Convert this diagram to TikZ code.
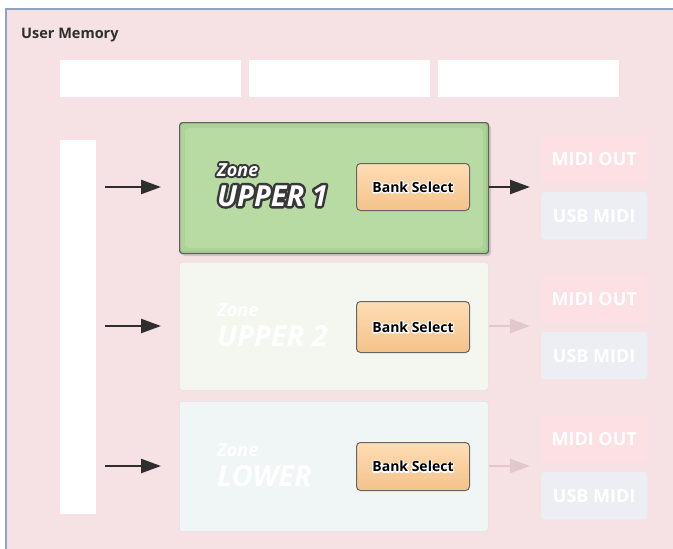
\documentclass[tikz,border=0pt]{standalone}
\usepackage{fontspec}
\setmainfont{Open Sans}
\usetikzlibrary{arrows.meta}
\definecolor{bgpink}{HTML}{F6E1E4}
\definecolor{framec}{HTML}{8FA4C2}
\definecolor{greenz}{HTML}{B8DAA3}
\definecolor{greenedge}{HTML}{A0C78C}
\definecolor{zoneborder}{HTML}{5E625C}
\definecolor{fadeA}{HTML}{F4F6F0}
\definecolor{fadeB}{HTML}{F0F5F5}
\definecolor{banktop}{HTML}{FEDDB5}
\definecolor{bankbot}{HTML}{F4C28A}
\definecolor{midic}{HTML}{FCE0E3}
\definecolor{usbc}{HTML}{ECEEF3}
\definecolor{fadearrow}{HTML}{E2C7CC}
\definecolor{darktxt}{HTML}{2E2E2E}
% outlined text: #1 stroke rgb, #2 stroke width, #3 text
\newcommand\outlinedtext[3]{\leavevmode\rlap{\special{pdf:literal direct 1 Tr #2 w 1 j #1 RG}#3\special{pdf:literal direct 0 Tr}}#3}
\tikzset{
  whitebox/.style={fill=white, draw=none, anchor=north west, inner sep=0pt},
  zonebox/.style={anchor=north west, inner sep=0pt, minimum width=309pt, minimum height=#1, rounded corners=3pt},
  bankbtn/.style={anchor=north west, inner sep=0pt, minimum width=113pt, rounded corners=4pt,
     top color=banktop, bottom color=bankbot, draw=gray!80!black, line width=1pt,
     font=\fontsize{14}{14}\selectfont\bfseries},
  portbox/.style={anchor=north west, inner sep=0pt, minimum width=106pt, minimum height=47pt,
     rounded corners=3pt, text=white, font=\fontsize{18}{18}\selectfont\bfseries},
  inarrow/.style={line width=2.4pt, darktxt, -{Triangle[length=20pt,width=14pt]}},
  outarrow/.style={line width=2.4pt, darktxt, -{Triangle[length=20pt,width=14pt]}},
  fadedarrow/.style={line width=2.4pt, fadearrow, -{Triangle[length=20pt,width=14pt]}},
  zonelabel/.style={anchor=base west, inner sep=0pt, font=\fontsize{18}{18}\selectfont\bfseries\itshape},
  zonename/.style={anchor=base west, inner sep=0pt, font=\fontsize{29}{29}\selectfont\bfseries\itshape},
}
\begin{document}
\begin{tikzpicture}[x=1pt,y=-1pt]
\useasboundingbox (0,0) rectangle (673,549);
% background and frame
\fill[bgpink] (6,9) rectangle (673,549);
\draw[framec, line width=1.5pt] (6,549) -- (6,9) -- (673,9);
\node[anchor=base west, inner sep=0pt, text=darktxt, font=\fontsize{14.5}{14.5}\selectfont\bfseries] (um) at (21,38) {User Memory};
% top white boxes
\node[whitebox, minimum width=181pt, minimum height=37pt] (t1) at (60,60) {};
\node[whitebox, minimum width=181pt, minimum height=37pt] (t2) at (249,60) {};
\node[whitebox, minimum width=181pt, minimum height=37pt] (t3) at (438,60) {};
% left bar
\node[whitebox, minimum width=36pt, minimum height=374pt] (bar) at (60,140) {};

% zone 1 (active)
\fill[gray, opacity=0.3, rounded corners=3pt] (182,125) rectangle (491,256);
\node[zonebox=131pt, fill=greenedge, draw=zoneborder, line width=1.2pt] (z1) at (179,122) {};
\fill[greenz!55!greenedge, rounded corners=3pt] (181,124) rectangle (486,251);
\fill[greenz, rounded corners=4pt] (185,128) rectangle (483,248);
\node[zonelabel, text=white] (z1l) at (217,176) {\outlinedtext{0.22 0.22 0.22}{4}{Zone}};
\node[zonename, text=white] (z1n) at (217,206) {\outlinedtext{0.22 0.22 0.22}{5}{UPPER 1}};
\node[bankbtn, minimum height=47pt] (b1) at (356,163) {\outlinedtext{1 1 1}{2.5}{Bank Select}};

% zone 2 (faded)
\node[zonebox=128pt, fill=fadeA, draw=fadeA!93!black, line width=0.6pt] (z2) at (179,262) {};
\node[zonelabel, text=white] (z2l) at (217,316) {Zone};
\node[zonename, text=white] (z2n) at (217,346) {UPPER 2};
\node[bankbtn, minimum height=51pt] (b2) at (356,301) {\outlinedtext{1 1 1}{2.5}{Bank Select}};

% zone 3 (faded)
\node[zonebox=130pt, fill=fadeB, draw=fadeB!93!black, line width=0.6pt] (z3) at (179,401) {};
\node[zonelabel, text=white] (z3l) at (217,456) {Zone};
\node[zonename, text=white] (z3n) at (217,486) {LOWER};
\node[bankbtn, minimum height=48pt] (b3) at (356,442) {\outlinedtext{1 1 1}{2.5}{Bank Select}};

% output ports
\node[portbox, fill=midic, draw=midic!90!white] (m1) at (541,135) {MIDI OUT};
\node[portbox, fill=usbc, draw=usbc!90!white] (u1) at (541,192) {USB MIDI};
\node[portbox, fill=midic, draw=midic!90!white] (m2) at (541,275) {MIDI OUT};
\node[portbox, fill=usbc, draw=usbc!90!white] (u2) at (541,332) {USB MIDI};
\node[portbox, fill=midic, draw=midic!90!white] (m3) at (541,415) {MIDI OUT};
\node[portbox, fill=usbc, draw=usbc!90!white] (u3) at (541,472) {USB MIDI};

% input arrows
\draw[inarrow, shorten <=9pt, shorten >=18pt] (bar.east |- 0,187) coordinate (i1) -- (z1.west |- i1);
\draw[inarrow, shorten <=9pt, shorten >=18pt] (bar.east |- 0,326) coordinate (i2) -- (z2.west |- i2);
\draw[inarrow, shorten <=9pt, shorten >=18pt] (bar.east |- 0,466) coordinate (i3) -- (z3.west |- i3);
% output arrows
\draw[outarrow, shorten >=11pt] (z1.east |- 0,187) -- (m1.west |- 0,187);
\draw[fadedarrow, shorten >=11pt] (z2.east |- 0,326) -- (m2.west |- 0,326);
\draw[fadedarrow, shorten >=11pt] (z3.east |- 0,466) -- (m3.west |- 0,466);
\end{tikzpicture}
\end{document}
